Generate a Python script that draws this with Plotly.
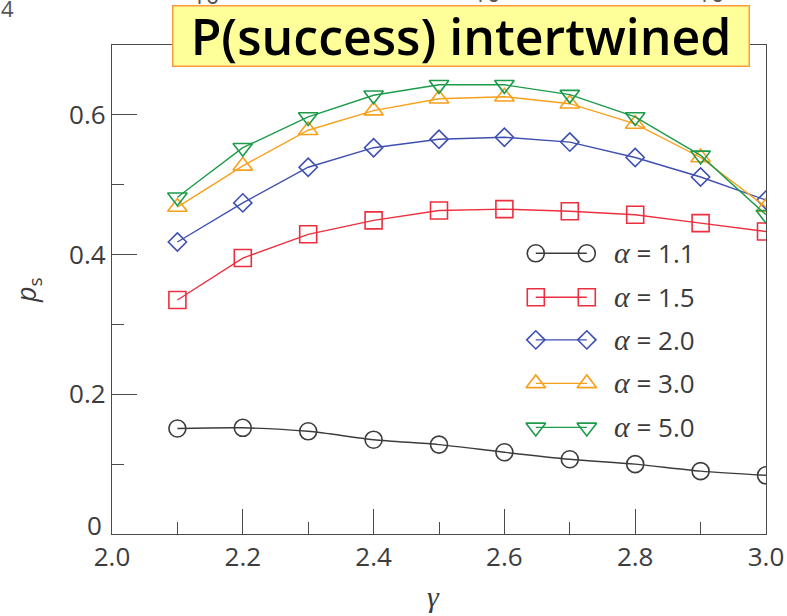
import plotly.graph_objects as go

# gamma values on the x axis
gamma = [2.1, 2.2, 2.3, 2.4, 2.5, 2.6, 2.7, 2.8, 2.9, 3.0]

# success probability p_s for each alpha
ps_alpha_11 = [0.151, 0.152, 0.147, 0.135, 0.128, 0.117, 0.107, 0.100, 0.090, 0.084]
ps_alpha_15 = [0.335, 0.395, 0.429, 0.449, 0.463, 0.465, 0.462, 0.457, 0.445, 0.433]
ps_alpha_20 = [0.418, 0.474, 0.525, 0.553, 0.565, 0.568, 0.561, 0.539, 0.511, 0.478]
ps_alpha_30 = [0.468, 0.527, 0.578, 0.606, 0.623, 0.626, 0.616, 0.587, 0.539, 0.468]
ps_alpha_50 = [0.482, 0.553, 0.597, 0.628, 0.643, 0.643, 0.629, 0.597, 0.542, 0.457]

alpha_labels = ["1.1", "1.5", "2.0", "3.0", "5.0"]

x_ticks = [2.0, 2.2, 2.4, 2.6, 2.8, 3.0]
x_ticktext = ["2.0", "2.2", "2.4", "2.6", "2.8", "3.0"]
y_ticks = [0, 0.2, 0.4, 0.6]
y_ticktext = ["0", "0.2", "0.4", "0.6"]

series = [
    dict(y=ps_alpha_11, color="#3c3c3c", symbol="circle-open", size=17, shape="spline"),
    dict(y=ps_alpha_15, color="#ec2f3f", symbol="square-open", size=17, shape="linear"),
    dict(y=ps_alpha_20, color="#3f4fb0", symbol="diamond-open", size=14, shape="linear"),
    dict(y=ps_alpha_30, color="#f7a01c", symbol="triangle-up-open", size=17, shape="linear"),
    dict(y=ps_alpha_50, color="#1d9b4b", symbol="triangle-down-open", size=17, shape="linear"),
]

TEXT = "#3c3c3c"
AXIS = "#4a4a4a"
SANS = "Open Sans"

# plot-area geometry in pixels
L, R, T, B, W, H = 112, 21, 45, 82, 787, 616
PW, PH = W - L - R, H - T - B


def px_to_paper(px, py):
    return (px - L) / PW, (H - B - py) / PH


fig = go.Figure()

for s in series:
    fig.add_trace(go.Scatter(
        x=gamma, y=s["y"], mode="lines+markers",
        line=dict(color=s["color"], width=1.4, shape=s["shape"], smoothing=0.8),
        marker=dict(symbol=s["symbol"], size=s["size"], color=s["color"],
                    line=dict(width=1.6, color=s["color"])),
        showlegend=False, hoverinfo="skip",
    ))

# hand-built legend: marker - line - marker glyphs on an overlay unit axis
leg_x0, leg_x1, leg_tx = 0.648, 0.726, 0.764
leg_rows = [0.574, 0.484, 0.397, 0.308, 0.218]
for s, lab, ry in zip(series, alpha_labels, leg_rows):
    fig.add_trace(go.Scatter(
        x=[leg_x0, leg_x1], y=[ry, ry], mode="lines+markers",
        xaxis="x2", yaxis="y2",
        line=dict(color=s["color"], width=1.4),
        marker=dict(symbol=s["symbol"], size=s["size"], color=s["color"],
                    line=dict(width=1.6, color=s["color"])),
        showlegend=False, hoverinfo="skip",
    ))
    fig.add_annotation(
        x=leg_tx, y=ry, xref="x2", yref="y2", xanchor="left", yanchor="middle",
        text=(f"<span style='font-family:Liberation Serif;font-size:30px'><i>α</i></span>"
              f" = {lab}"),
        showarrow=False, font=dict(family=SANS, size=26, color=TEXT),
    )

axis_common = dict(
    ticks="inside", ticklen=25, tickwidth=1.2, tickcolor=AXIS,
    showline=True, linecolor=AXIS, linewidth=1.3, mirror=True,
    showgrid=False, zeroline=False, automargin=False,
    tickfont=dict(family=SANS, size=26, color=TEXT),
)

# the origin label of the y axis sits a little higher, clear of the x labels
y_ticktext_drawn = ["" if t == "0" else t for t in y_ticktext]

fig.update_layout(
    width=W, height=H,
    margin=dict(l=L, r=R, t=T, b=B),
    paper_bgcolor="white", plot_bgcolor="white",
    xaxis=dict(
        range=[2.0, 3.0], tickvals=x_ticks, ticktext=x_ticktext,
        minor=dict(dtick=0.1, tick0=2.0, ticks="inside", ticklen=12, tickwidth=1.2, tickcolor=AXIS),
        **axis_common,
    ),
    yaxis=dict(
        range=[0, 0.7], tickvals=y_ticks, ticktext=y_ticktext_drawn,
        minor=dict(dtick=0.1, tick0=0, ticks="inside", ticklen=12, tickwidth=1.2, tickcolor=AXIS),
        **axis_common,
    ),
    xaxis2=dict(range=[0, 1], overlaying="x", visible=False, fixedrange=True),
    yaxis2=dict(range=[0, 1], overlaying="y", visible=False, fixedrange=True),
)

fig.add_annotation(
    x=0, y=y_ticks[0], xref="paper", yref="y", xanchor="right", yanchor="middle",
    xshift=-8, yshift=9, text=y_ticktext[0], showarrow=False,
    font=dict(family=SANS, size=26, color=TEXT),
)

# axis titles
gx, gy = px_to_paper(433, 596)
fig.add_annotation(
    x=gx, y=gy, xref="paper", yref="paper", xanchor="center", yanchor="middle",
    text="<i>γ</i>", showarrow=False,
    font=dict(family="Liberation Serif", size=30, color=TEXT),
)
px_, py_ = px_to_paper(27, 290)
fig.add_annotation(
    x=px_, y=py_, xref="paper", yref="paper", xanchor="center", yanchor="middle",
    text="<i>p</i><sub>s</sub>", showarrow=False, textangle=-90,
    font=dict(family=SANS, size=27, color=TEXT),
)

# clipped tick labels of the panel above
for txt, cx, cy, size in [("4", 7, 8, 22), ("10<sup>5</sup>", 210, -6, 24),
                          ("10", 486, -8, 24), ("10", 710, -8, 24)]:
    ax_, ay_ = px_to_paper(cx, cy)
    fig.add_annotation(
        x=ax_, y=ay_, xref="paper", yref="paper",
        xanchor="center", yanchor="middle", text=txt, showarrow=False,
        font=dict(family=SANS, size=size, color="#555555"),
    )

# title banner
tx, ty = px_to_paper(461, 36)
fig.add_annotation(
    x=tx, y=ty, xref="paper", yref="paper",
    xanchor="center", yanchor="middle",
    text="P(success) intertwined", showarrow=False,
    font=dict(family="Open Sans", size=50, color="black", weight=600),
    bgcolor="#ffff99", bordercolor="#ff9a3c", borderwidth=1.5, borderpad=0,
    width=575, height=59,
)

fig.write_html("out.html")
